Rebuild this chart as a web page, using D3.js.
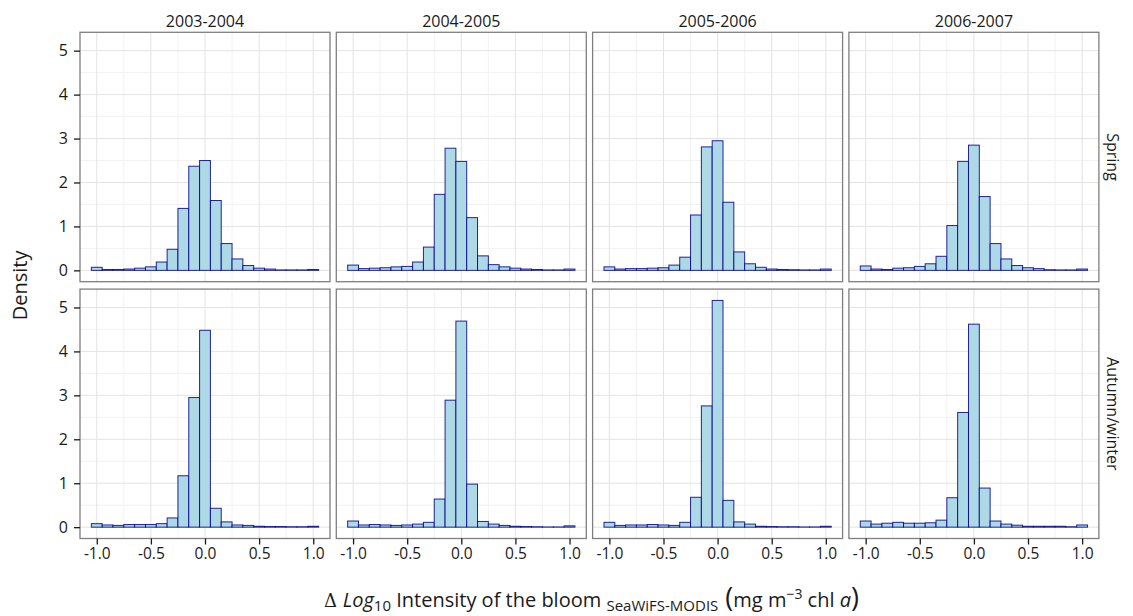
<!DOCTYPE html>
<html>
<head>
<meta charset="utf-8">
<script src="https://cdn.jsdelivr.net/npm/d3@7"></script>
<style>
  body { margin: 0; background: #fff; }
  text { font-family: "Open Sans", "Noto Sans", sans-serif; fill: #1a1a1a; }
</style>
</head>
<body>
<div id="chart"></div>
<script>
// bin centres of the histograms (width 0.1)
const bins = [-1.0, -0.9, -0.8, -0.7, -0.6, -0.5, -0.4, -0.3, -0.2, -0.1, 0.0,
              0.1, 0.2, 0.3, 0.4, 0.5, 0.6, 0.7, 0.8, 0.9, 1.0];
const years = ["2003-2004", "2004-2005", "2005-2006", "2006-2007"];
const seasons = ["Spring", "Autumn/winter"];

// densities, one array per panel
const spring0304 = [0.07, 0.02, 0.02, 0.03, 0.05, 0.08, 0.19, 0.48, 1.41, 2.37, 2.50,
                    1.59, 0.61, 0.26, 0.11, 0.05, 0.03, 0.01, 0.01, 0.01, 0.02];
const spring0405 = [0.12, 0.04, 0.05, 0.06, 0.08, 0.09, 0.19, 0.53, 1.73, 2.78, 2.48,
                    1.20, 0.33, 0.13, 0.08, 0.05, 0.03, 0.02, 0.01, 0.01, 0.03];
const spring0506 = [0.08, 0.03, 0.04, 0.04, 0.05, 0.06, 0.12, 0.30, 1.26, 2.81, 2.95,
                    1.55, 0.42, 0.15, 0.07, 0.03, 0.02, 0.015, 0.01, 0.01, 0.03];
const spring0607 = [0.10, 0.03, 0.02, 0.05, 0.06, 0.09, 0.15, 0.32, 1.02, 2.48, 2.85,
                    1.68, 0.61, 0.26, 0.11, 0.06, 0.04, 0.015, 0.01, 0.01, 0.03];
const autumn0304 = [0.08, 0.05, 0.04, 0.06, 0.06, 0.06, 0.08, 0.21, 1.17, 2.95, 4.48,
                    0.43, 0.12, 0.05, 0.04, 0.02, 0.015, 0.015, 0.01, 0.01, 0.02];
const autumn0405 = [0.14, 0.05, 0.06, 0.05, 0.04, 0.05, 0.07, 0.11, 0.64, 2.89, 4.69,
                    0.98, 0.13, 0.07, 0.04, 0.02, 0.015, 0.01, 0.005, 0.005, 0.03];
const autumn0506 = [0.11, 0.04, 0.05, 0.05, 0.06, 0.05, 0.04, 0.11, 0.68, 2.76, 5.16,
                    0.61, 0.12, 0.07, 0.02, 0.015, 0.01, 0.01, 0.005, 0.005, 0.02];
const autumn0607 = [0.14, 0.07, 0.09, 0.11, 0.09, 0.09, 0.10, 0.16, 0.67, 2.61, 4.62,
                    0.89, 0.14, 0.07, 0.045, 0.02, 0.02, 0.02, 0.02, 0.01, 0.05];

const xTicks = [-1.0, -0.5, 0.0, 0.5, 1.0];
const yTicks = [0, 1, 2, 3, 4, 5];

const panels = [
  [spring0304, spring0405, spring0506, spring0607],
  [autumn0304, autumn0405, autumn0506, autumn0607]
];

const width = 1133, height = 616;
const marginLeft = 80, marginTop = 32.3;
const panelW = 250, panelH = 249.4, gapX = 6.3, gapY = 7.4;
const binW = 0.1;

const svg = d3.select('#chart')
  .append('svg')
  .attr('width', width)
  .attr('height', height);

const x = d3.scaleLinear().domain([-1.155, 1.155]).range([0, panelW]);
const y = d3.scaleLinear().domain([-0.258, 5.418]).range([panelH, 0]);

const fmt = d => d.toFixed(1);

seasons.forEach((season, r) => {
  years.forEach((year, c) => {
    const g = svg.append('g')
      .attr('transform', `translate(${marginLeft + c * (panelW + gapX)},${marginTop + r * (panelH + gapY)})`);

    // grid
    const minorX = [-0.75, -0.25, 0.25, 0.75];
    const minorY = [0.5, 1.5, 2.5, 3.5, 4.5];
    g.append('g').selectAll('line').data(minorX).join('line')
      .attr('x1', d => x(d)).attr('x2', d => x(d)).attr('y1', 0).attr('y2', panelH)
      .attr('stroke', '#f2f2f2').attr('stroke-width', 1);
    g.append('g').selectAll('line').data(minorY).join('line')
      .attr('y1', d => y(d)).attr('y2', d => y(d)).attr('x1', 0).attr('x2', panelW)
      .attr('stroke', '#f2f2f2').attr('stroke-width', 1);
    g.append('g').selectAll('line').data(xTicks).join('line')
      .attr('x1', d => x(d)).attr('x2', d => x(d)).attr('y1', 0).attr('y2', panelH)
      .attr('stroke', '#e3e3e3').attr('stroke-width', 1);
    g.append('g').selectAll('line').data(yTicks).join('line')
      .attr('y1', d => y(d)).attr('y2', d => y(d)).attr('x1', 0).attr('x2', panelW)
      .attr('stroke', '#e3e3e3').attr('stroke-width', 1);

    // bars
    const vals = panels[r][c];
    g.append('g').selectAll('rect').data(bins).join('rect')
      .attr('x', d => x(d - binW / 2))
      .attr('width', x(binW) - x(0))
      .attr('y', (d, i) => y(vals[i]))
      .attr('height', (d, i) => y(0) - y(vals[i]))
      .attr('fill', '#add8e6')
      .attr('stroke', '#00008b')
      .attr('stroke-opacity', 0.85)
      .attr('stroke-width', 1);

    // border
    g.append('rect')
      .attr('width', panelW).attr('height', panelH)
      .attr('fill', 'none').attr('stroke', '#7f7f7f').attr('stroke-width', 1.3);

    if (r === 0) {
      g.append('text')
        .attr('x', panelW / 2).attr('y', -5.5)
        .attr('text-anchor', 'middle')
        .style('font-size', '16px')
        .text(year);
    }
    if (c === 0) {
      const ay = g.append('g').call(d3.axisLeft(y).tickValues(yTicks).tickSize(6).tickPadding(6).tickFormat(d3.format('d')));
      ay.select('.domain').remove();
      ay.selectAll('line').attr('stroke', '#1a1a1a').attr('stroke-width', 1.3);
      ay.selectAll('text').style('font-size', '16px').attr('fill', '#1a1a1a');
    }
    if (r === 1) {
      const ax = g.append('g').attr('transform', `translate(0,${panelH})`)
        .call(d3.axisBottom(x).tickValues(xTicks).tickSize(6).tickPadding(3).tickFormat(fmt));
      ax.select('.domain').remove();
      ax.selectAll('line').attr('stroke', '#1a1a1a').attr('stroke-width', 1.3);
      ax.selectAll('text').style('font-size', '15.5px').attr('fill', '#1a1a1a');
    }
    if (c === years.length - 1) {
      g.append('text')
        .attr('transform', `translate(${panelW + 8},${panelH / 2}) rotate(90)`)
        .attr('text-anchor', 'middle')
        .style('font-size', '16px')
        .text(season);
    }
  });
});

// axis titles
svg.append('text')
  .attr('transform', `translate(27,${marginTop + panelH + gapY / 2}) rotate(-90)`)
  .attr('text-anchor', 'middle')
  .style('font-size', '20px')
  .text('Density');

const xt = svg.append('text')
  .attr('x', marginLeft + (4 * panelW + 3 * gapX) / 2 + 2)
  .attr('y', 607)
  .attr('text-anchor', 'middle')
  .style('font-size', '20px');
xt.append('tspan').style('font-family', 'DejaVu Serif').style('font-size', '18px').text('\u0394 ');
xt.append('tspan').style('font-style', 'italic').text('Log');
xt.append('tspan').attr('dy', 4).style('font-size', '15px').text('10');
xt.append('tspan').attr('dy', -4).text(' Intensity of the bloom ');
xt.append('tspan').attr('dy', 4).style('font-size', '15px').text('SeaWiFS-MODIS');
xt.append('tspan').attr('dy', -4).style('font-size', '27px').text(' (');
xt.append('tspan').text('mg m');
xt.append('tspan').attr('dy', -8).style('font-size', '14px').text('\u22123');
xt.append('tspan').attr('dy', 8).text(' chl ');
xt.append('tspan').style('font-style', 'italic').text('a');
xt.append('tspan').style('font-size', '27px').text(')');
</script>
</body>
</html>
